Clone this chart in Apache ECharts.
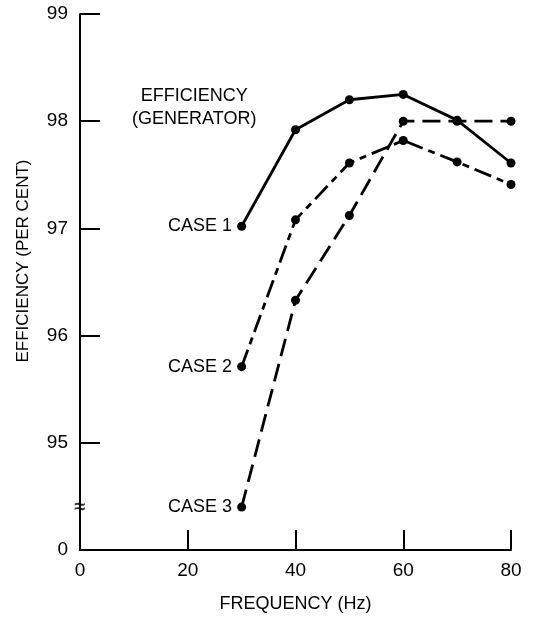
<!DOCTYPE html>
<html><head><meta charset="utf-8">
<script src="https://cdn.jsdelivr.net/npm/echarts@6/dist/echarts.min.js"></script>
<style>html,body{margin:0;padding:0;background:#fff}#c{width:534px;height:618px}</style>
</head><body><div id="c"></div>
<script>
const freq = [30, 40, 50, 60, 70, 80];
const case1 = [97.02, 97.92, 98.2, 98.25, 98.01, 97.61];
const case2 = [95.71, 97.08, 97.61, 97.82, 97.62, 97.41];
const case3 = [94.4, 96.33, 97.12, 98.0, 98.0, 98.0];
const caseNames = ['CASE 1', 'CASE 2', 'CASE 3'];
const yTicks = [94, 95, 96, 97, 98, 99];
const xTicks = [0, 20, 40, 60, 80];

const FONT = 'Liberation Sans, Arial, sans-serif';
const chart = echarts.init(document.getElementById('c'));

function mk(vals, name, dash) {
  return {
    type: 'line', name: name,
    data: vals.map((v, i) => i === 0 ? {
      value: [freq[i], v],
      label: {show: true, formatter: name, position: 'left', distance: 5,
        color: '#000', fontSize: 18, fontFamily: FONT}
    } : [freq[i], v]),
    symbol: 'circle', symbolSize: 9, showSymbol: true,
    itemStyle: {color: '#000'},
    lineStyle: {color: '#000', width: 2.8, type: dash},
    silent: true, animation: false, z: 3
  };
}
const s1 = mk(case1, caseNames[0], 'solid');
s1.markPoint = {
  symbol: 'circle', symbolSize: 0, silent: true,
  data: [{coord: [21.2, 98.125], label: {show: true, position: 'inside',
    formatter: 'EFFICIENCY\n(GENERATOR)', color: '#000', fontSize: 18, lineHeight: 23, fontFamily: FONT}}]
};
const s2 = mk(case2, caseNames[1], [18, 6, 7, 6]);
const s3 = mk(case3, caseNames[2], [18, 8]);
const brk = {
  type: 'scatter', data: [[0, 94.4]], symbolSize: 0, silent: true, animation: false,
  label: {show: true, position: 'inside', formatter: '≈', color: '#000', fontSize: 20, fontFamily: FONT, fontWeight: 'bold'}
};

chart.setOption({
  animation: false,
  backgroundColor: '#fff',
  grid: {left: 80, right: 23, top: 14, bottom: 64, containLabel: false},
  xAxis: {
    type: 'value', min: 0, max: 80, interval: 20,
    name: 'FREQUENCY (Hz)', nameLocation: 'middle', nameGap: 45,
    nameTextStyle: {color: '#000', fontSize: 18, fontFamily: FONT},
    axisLine: {show: true, lineStyle: {color: '#000', width: 2}},
    axisTick: {show: true, inside: true, length: 20, lineStyle: {color: '#000', width: 2}},
    axisLabel: {color: '#000', fontSize: 19, fontFamily: FONT, margin: 11,
      formatter: v => xTicks.includes(v) ? String(v) : ''},
    splitLine: {show: false}
  },
  yAxis: {
    type: 'value', min: 94, max: 99, interval: 1,
    axisLine: {show: true, lineStyle: {color: '#000', width: 2}},
    axisTick: {show: true, inside: true, length: 20, lineStyle: {color: '#000', width: 2}},
    axisLabel: {color: '#000', fontSize: 19, fontFamily: FONT, margin: 12,
      formatter: v => v === yTicks[0] ? '0' : String(v)},
    splitLine: {show: false}
  },
  graphic: [{
    type: 'text', x: 23, y: 261, rotation: Math.PI / 2,
    style: {text: 'EFFICIENCY (PER CENT)', fill: '#000', fontSize: 17, fontFamily: FONT,
      textAlign: 'center', textVerticalAlign: 'middle'}
  }],
  series: [s1, s2, s3, brk]
});
</script></body></html>
